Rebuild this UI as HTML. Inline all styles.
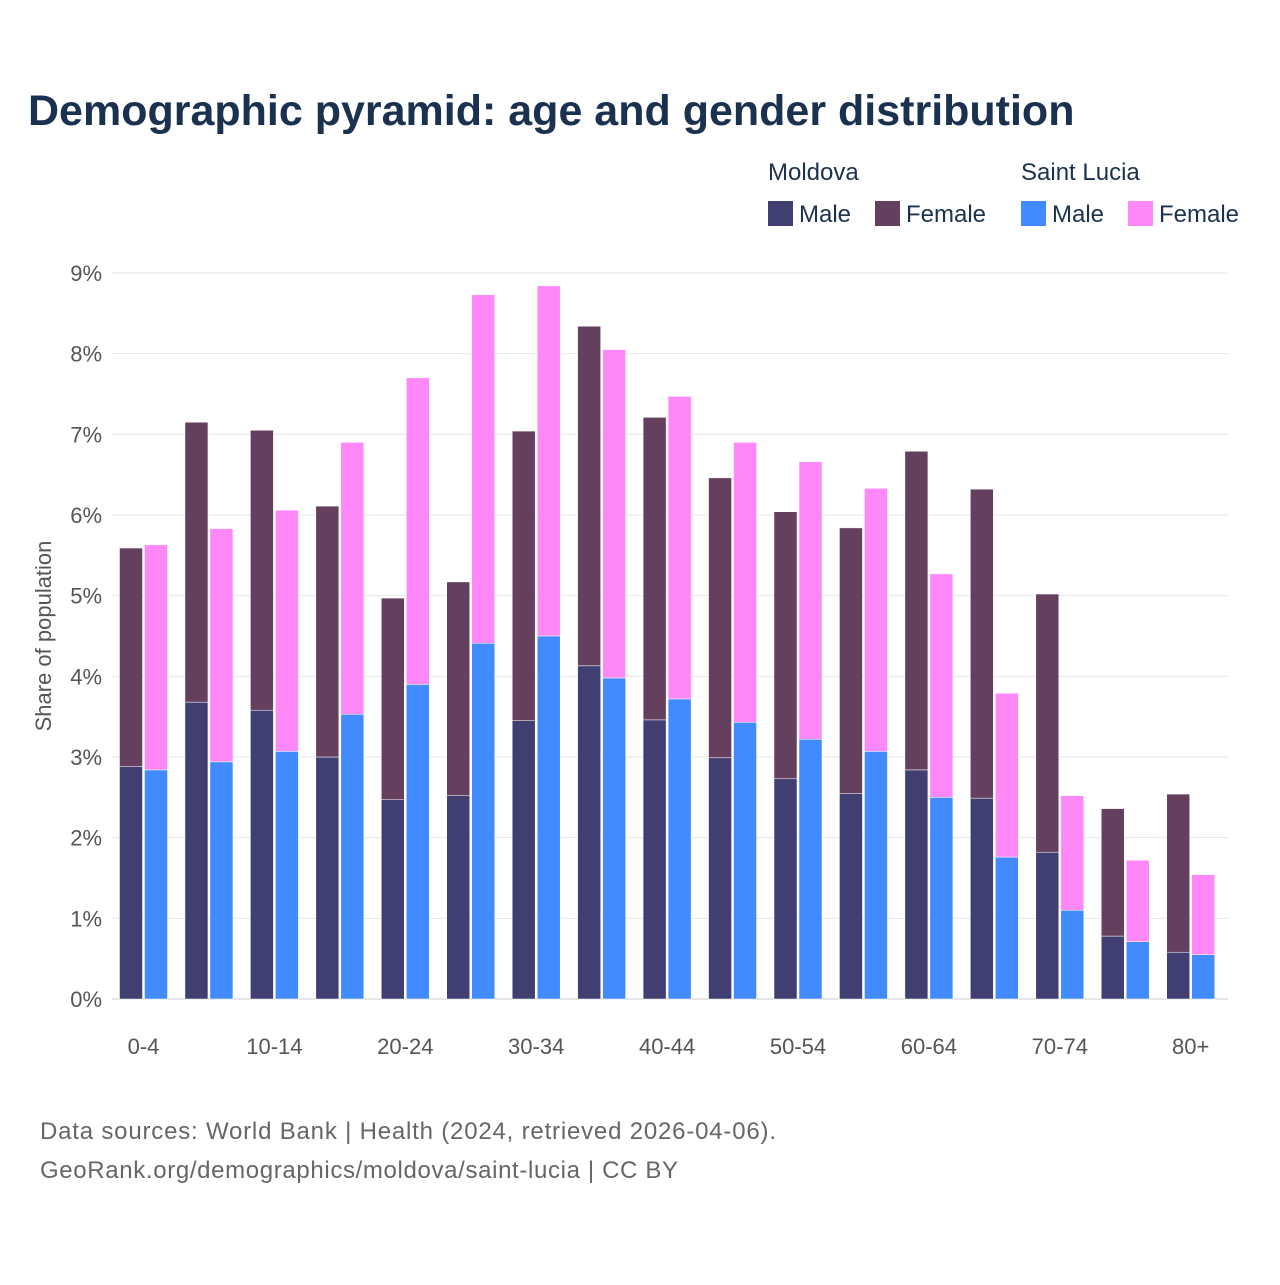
<!DOCTYPE html>
<html><head><meta charset="utf-8"><style>
body{margin:0;background:#fff;font-family:"Liberation Sans",sans-serif;}
#wrap{position:relative;width:1280px;height:1280px;}
</style></head><body>
<div id="wrap">
<svg id="chart" width="1280" height="1280" xmlns="http://www.w3.org/2000/svg">
<text x="28" y="125" font-size="43" font-weight="bold" fill="#1b3150">Demographic pyramid: age and gender distribution</text>
<g font-size="24" fill="#1b3150">
<text x="768" y="180">Moldova</text>
<text x="1021" y="180">Saint Lucia</text>
<rect x="768" y="201" width="25" height="25" fill="#413f71"/>
<text x="799" y="222">Male</text>
<rect x="875" y="201" width="25" height="25" fill="#65405e"/>
<text x="906" y="222">Female</text>
<rect x="1021" y="201" width="25" height="25" fill="#418bff"/>
<text x="1052" y="222">Male</text>
<rect x="1128" y="201" width="25" height="25" fill="#ff88f8"/>
<text x="1159" y="222">Female</text>
</g>
<text transform="translate(51,636) rotate(-90)" text-anchor="middle" font-size="22" fill="#555">Share of population</text>
<g id="grid"></g><g id="bars"></g><g id="xlabels"></g>
<text x="40" y="1139" font-size="24" fill="#666" textLength="736">Data sources: World Bank | Health (2024, retrieved 2026-04-06).</text>
<text x="40" y="1178" font-size="24" fill="#666" textLength="638">GeoRank.org/demographics/moldova/saint-lucia | CC BY</text>
</svg></div>
<script>
const categories=["0-4","5-9","10-14","15-19","20-24","25-29","30-34","35-39","40-44","45-49","50-54","55-59","60-64","65-69","70-74","75-79","80+"];
const mdMale=[2.88,3.68,3.58,3.0,2.47,2.52,3.45,4.13,3.46,2.99,2.73,2.55,2.84,2.49,1.82,0.78,0.58];
const mdFemale=[2.71,3.47,3.47,3.11,2.50,2.65,3.59,4.21,3.75,3.47,3.31,3.29,3.95,3.83,3.20,1.58,1.96];
const slMale=[2.84,2.94,3.07,3.53,3.90,4.41,4.50,3.98,3.72,3.43,3.22,3.07,2.50,1.76,1.10,0.71,0.55];
const slFemale=[2.79,2.89,2.99,3.37,3.80,4.32,4.34,4.07,3.75,3.47,3.44,3.26,2.77,2.03,1.42,1.01,0.99];
const yTicks=[0,1,2,3,4,5,6,7,8,9];
const NS="http://www.w3.org/2000/svg";
const y0=999,pxPer=80.67;
const yS=v=>y0-v*pxPer;
const xS=i=>143.5+65.45*i;
const grid=document.getElementById('grid'),bars=document.getElementById('bars'),xl=document.getElementById('xlabels');
function mk(tag,at,parent){const e=document.createElementNS(NS,tag);for(const k in at)e.setAttribute(k,at[k]);parent.appendChild(e);return e;}
yTicks.forEach(t=>{
 const l=mk('line',{x1:112,x2:1228,y1:yS(t),y2:yS(t),stroke:t===0?'#ccc':'#e6e6e6','stroke-width':1},grid);
 
 
 const tx=mk('text',{x:102,y:yS(t)+8,'text-anchor':'end','font-size':22,fill:'#555'},grid);
 tx.textContent=t+'%';
 
 
});
function bar(x,v0,v1,fill,name){
 const r=mk('rect',{x:x,y:yS(v1),width:23,height:yS(v0)-yS(v1),fill:fill,stroke:'#fff','stroke-width':0.5},bars);
 
 
}
categories.forEach((c,i)=>{
 const cx=xS(i);
 bar(cx-24,0,mdMale[i],'#413f71','bar-moldova-male');
 bar(cx-24,mdMale[i],mdMale[i]+mdFemale[i],'#65405e','bar-moldova-female');
 bar(cx+1,0,slMale[i],'#418bff','bar-saint-lucia-male');
 bar(cx+1,slMale[i],slMale[i]+slFemale[i],'#ff88f8','bar-saint-lucia-female');
 if(i%2===0){
  const t=mk('text',{x:cx,y:1054,'text-anchor':'middle','font-size':22,fill:'#555'},xl);
  t.textContent=c;
  
  
 }
});
</script>
</body></html>
